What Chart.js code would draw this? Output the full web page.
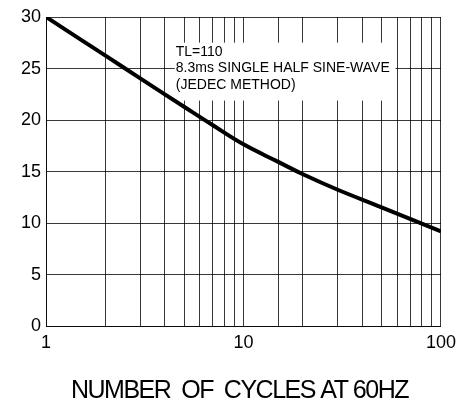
<!DOCTYPE html>
<html>
<head>
<meta charset="utf-8">
<script src="https://cdn.jsdelivr.net/npm/chart.js@4/dist/chart.umd.min.js"></script>
<style>
  html, body { margin: 0; padding: 0; background: #fff; }
  #wrap { width: 462px; height: 406px; }
</style>
</head>
<body>
<div id="wrap"><canvas id="chart"></canvas></div>
<script>
// curve
const cycles = [1, 2, 3, 5, 7, 10, 15, 20, 30, 50, 100];
const surgeAmps = [30, 26.25, 24.05, 21.3, 19.5, 17.65, 15.95, 14.75, 13.25, 11.55, 9.2];
const xTickLabels = [1, 10, 100];
const noteLines = ["TL=110", "8.3ms SINGLE HALF SINE-WAVE", "(JEDEC METHOD)"];
const xTitle = "NUMBER  OF  CYCLES AT 60HZ";

const gridColor = "rgba(0,0,0,0.78)";

// white box with the note, drawn over the grid
const notePlugin = {
  id: "note",
  beforeDatasetsDraw(chart) {
    const { ctx, chartArea: a } = chart;
    const w = a.right - a.left, h = a.bottom - a.top;
    const x0 = a.left + w * 0.326, x1 = a.left + w * 0.885;
    const y0 = a.top + h * 0.083, y1 = a.top + h * 0.27;
    ctx.save();
    ctx.fillStyle = "#fff";
    ctx.fillRect(x0, y0, x1 - x0, y1 - y0);
    ctx.fillStyle = "#000";
    ctx.font = "14px 'Liberation Sans', Arial, sans-serif";
    ctx.textBaseline = "middle";
    noteLines.forEach((t, i) => {
      ctx.fillText(t, x0 + 1, y0 + 9 + i * 16.5);
    });
    ctx.restore();
  },
};

// axis title, tightly spaced like the original
const titlePlugin = {
  id: "xtitle",
  afterDraw(chart) {
    const { ctx, chartArea: a } = chart;
    ctx.save();
    ctx.fillStyle = "#000";
    ctx.font = "25px 'Liberation Sans', Arial, sans-serif";
    ctx.letterSpacing = "-1.5px";
    ctx.textAlign = "center";
    ctx.textBaseline = "middle";
    ctx.fillText(xTitle, (a.left + a.right) / 2 - 4, a.bottom + 65);
    ctx.restore();
  },
};

const config = {
  type: "line",
  data: {
    labels: cycles,
    datasets: [
      {
        data: cycles.map((c, i) => ({ x: c, y: surgeAmps[i] })),
        borderColor: "#000",
        borderWidth: 4,
        pointRadius: 0,
        tension: 0.4,
        fill: false,
      },
    ],
  },
  options: {
    responsive: true,
    maintainAspectRatio: false,
    animation: false,
    layout: { padding: { left: 16, right: 21, top: 17, bottom: 46 } },
    plugins: { legend: { display: false }, tooltip: { enabled: false } },
    scales: {
      x: {
        type: "logarithmic",
        min: 1,
        max: 100,
        grid: { color: gridColor, lineWidth: 1, drawTicks: false },
        border: { color: gridColor },
        ticks: {
          autoSkip: false,
          maxRotation: 0,
          padding: 6,
          color: "#000",
          font: { family: "'Liberation Sans', Arial, sans-serif", size: 18 },
          callback: (v) => (xTickLabels.includes(v) ? String(v) : ""),
        },
      },
      y: {
        min: 0,
        max: 30,
        grid: { color: gridColor, lineWidth: 1, drawTicks: false },
        border: { color: gridColor },
        ticks: {
          stepSize: 5,
          padding: 5,
          color: "#000",
          font: { family: "'Liberation Sans', Arial, sans-serif", size: 18 },
        },
      },
    },
  },
  plugins: [notePlugin, titlePlugin],
};

const myChart = new Chart(document.getElementById("chart"), config);
</script>
</body>
</html>
